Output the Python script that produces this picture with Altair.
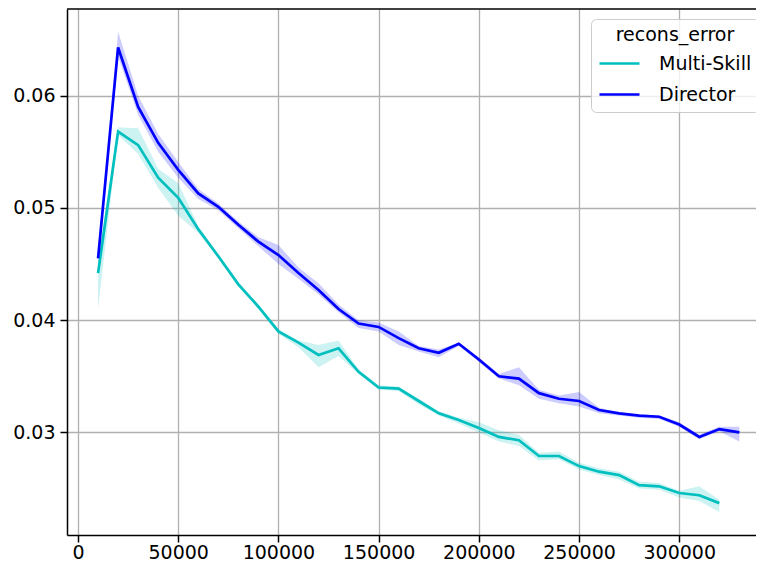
import altair as alt
import pandas as pd

# ---- data ----
steps = [10000, 20000, 30000, 40000, 50000, 60000, 70000, 80000, 90000, 100000,
         110000, 120000, 130000, 140000, 150000, 160000, 170000, 180000, 190000, 200000,
         210000, 220000, 230000, 240000, 250000, 260000, 270000, 280000, 290000, 300000,
         310000, 320000, 330000]

director_mean = [0.0455, 0.0643, 0.0590, 0.0558, 0.0534, 0.0513, 0.0501, 0.0485, 0.0470, 0.0458,
                 0.0442, 0.0427, 0.0410, 0.0397, 0.0394, 0.0384, 0.0375, 0.0371, 0.0379, 0.0365,
                 0.0350, 0.0348, 0.0335, 0.0330, 0.0328, 0.0320, 0.0317, 0.0315, 0.0314, 0.0307,
                 0.0296, 0.0303, 0.0300]
director_lo = [0.0452, 0.0635, 0.0583, 0.0550, 0.0527, 0.0508, 0.0498, 0.0482, 0.0466, 0.0450,
               0.0437, 0.0423, 0.0407, 0.0393, 0.0390, 0.0378, 0.0372, 0.0367, 0.0377, 0.0363,
               0.0348, 0.0342, 0.0330, 0.0326, 0.0323, 0.0317, 0.0315, 0.0313, 0.0312, 0.0305,
               0.0294, 0.0301, 0.0292]
director_hi = [0.0458, 0.0657, 0.0600, 0.0566, 0.0541, 0.0517, 0.0504, 0.0488, 0.0474, 0.0467,
               0.0447, 0.0433, 0.0414, 0.0400, 0.0398, 0.0390, 0.0377, 0.0374, 0.0380, 0.0367,
               0.0352, 0.0358, 0.0338, 0.0333, 0.0336, 0.0322, 0.0318, 0.0316, 0.0315, 0.0309,
               0.0298, 0.0305, 0.0305]

multi_steps = steps[:32]
multi_mean = [0.0442, 0.0568, 0.0556, 0.0527, 0.0509, 0.0481, 0.0457, 0.0432, 0.0412, 0.0390,
              0.0380, 0.0369, 0.0375, 0.0354, 0.0340, 0.0339, 0.0328, 0.0317, 0.0311, 0.0304,
              0.0296, 0.0293, 0.0279, 0.0279, 0.0270, 0.0265, 0.0262, 0.0253, 0.0252, 0.0246,
              0.0244, 0.0237]
multi_lo = [0.0410, 0.0565, 0.0548, 0.0518, 0.0493, 0.0478, 0.0455, 0.0430, 0.0410, 0.0388,
            0.0376, 0.0358, 0.0368, 0.0352, 0.0338, 0.0337, 0.0325, 0.0315, 0.0308, 0.0300,
            0.0292, 0.0288, 0.0275, 0.0276, 0.0267, 0.0262, 0.0258, 0.0250, 0.0249, 0.0242,
            0.0239, 0.0229]
multi_hi = [0.0452, 0.0572, 0.0571, 0.0535, 0.0522, 0.0484, 0.0459, 0.0434, 0.0414, 0.0392,
            0.0382, 0.0378, 0.0382, 0.0356, 0.0342, 0.0341, 0.0330, 0.0319, 0.0313, 0.0309,
            0.0302, 0.0298, 0.0282, 0.0283, 0.0273, 0.0268, 0.0265, 0.0256, 0.0255, 0.0248,
            0.0252, 0.0240]

series_order = ["Multi-Skill", "Director"]
series_colors = ["#00bfbf", "#0000ff"]
x_ticks = [0, 50000, 100000, 150000, 200000, 250000, 300000]
y_ticks = [0.03, 0.04, 0.05, 0.06]

rows = []
for name, xs, m, lo, hi in [("Multi-Skill", multi_steps, multi_mean, multi_lo, multi_hi),
                            ("Director", steps, director_mean, director_lo, director_hi)]:
    for x, a, b, c in zip(xs, m, lo, hi):
        rows.append({"step": x, "mean": a, "lo": b, "hi": c, "series": name})
df = pd.DataFrame(rows)

W, H = 689, 526
xscale = alt.Scale(domain=[-5500, 338300], nice=False, zero=False)
yscale = alt.Scale(domain=[0.02086, 0.06773], nice=False, zero=False)

base = alt.Chart(df)

bands = []
for name, col in zip(series_order, series_colors):
    bands.append(
        base.transform_filter(alt.datum.series == name)
        .mark_area(color=col, opacity=0.2)
        .encode(
            x=alt.X("step:Q", scale=xscale,
                    axis=alt.Axis(values=x_ticks, format="d", title=None, grid=True)),
            y=alt.Y("lo:Q", scale=yscale,
                    axis=alt.Axis(values=y_ticks, format=".2f", title=None, grid=True)),
            y2="hi:Q",
        )
    )

line = base.mark_line(strokeWidth=2.7).encode(
    x=alt.X("step:Q", scale=xscale),
    y=alt.Y("mean:Q", scale=yscale),
    stroke=alt.Stroke(
        "series:N",
        scale=alt.Scale(domain=series_order, range=series_colors),
        legend=alt.Legend(
            title="recons_error", orient="none", legendX=524, legendY=10,
            symbolType="M-1,0H3", symbolSize=400, symbolStrokeWidth=2.7,
            labelFont="DejaVu Sans", labelFontSize=19, labelColor="black",
            titleFont="DejaVu Sans", titleFontSize=19, titleFontWeight="normal",
            titleColor="black", titleAnchor="middle", titlePadding=7,
            fillColor="rgba(255,255,255,0.8)", strokeColor="#cccccc",
            cornerRadius=5, padding=7, rowPadding=9, labelOffset=38,
        ),
    ),
)

top_spine = alt.Chart(pd.DataFrame({"k": [0]})).mark_rule(
    color="black", strokeWidth=1.5
).encode(x=alt.value(0), x2=alt.value(W), y=alt.value(0))

chart = alt.layer(*bands, line, top_spine).properties(
    width=W, height=H,
    autosize=alt.AutoSizeParams(type="none"),
    padding={"left": 59, "top": 1, "right": 0, "bottom": 28},
).configure_axis(
    domainColor="black", domainWidth=1.5, tickColor="black", tickWidth=1.5, tickSize=7,
    labelFont="DejaVu Sans", labelFontSize=19, labelColor="black", labelPadding=5,
    gridColor="#b0b0b0", gridWidth=1.3,
).configure_axisX(labelPadding=1).configure_view(strokeOpacity=0, strokeWidth=0)

chart.save("out.html", embed_options={"renderer": "svg", "actions": False})
